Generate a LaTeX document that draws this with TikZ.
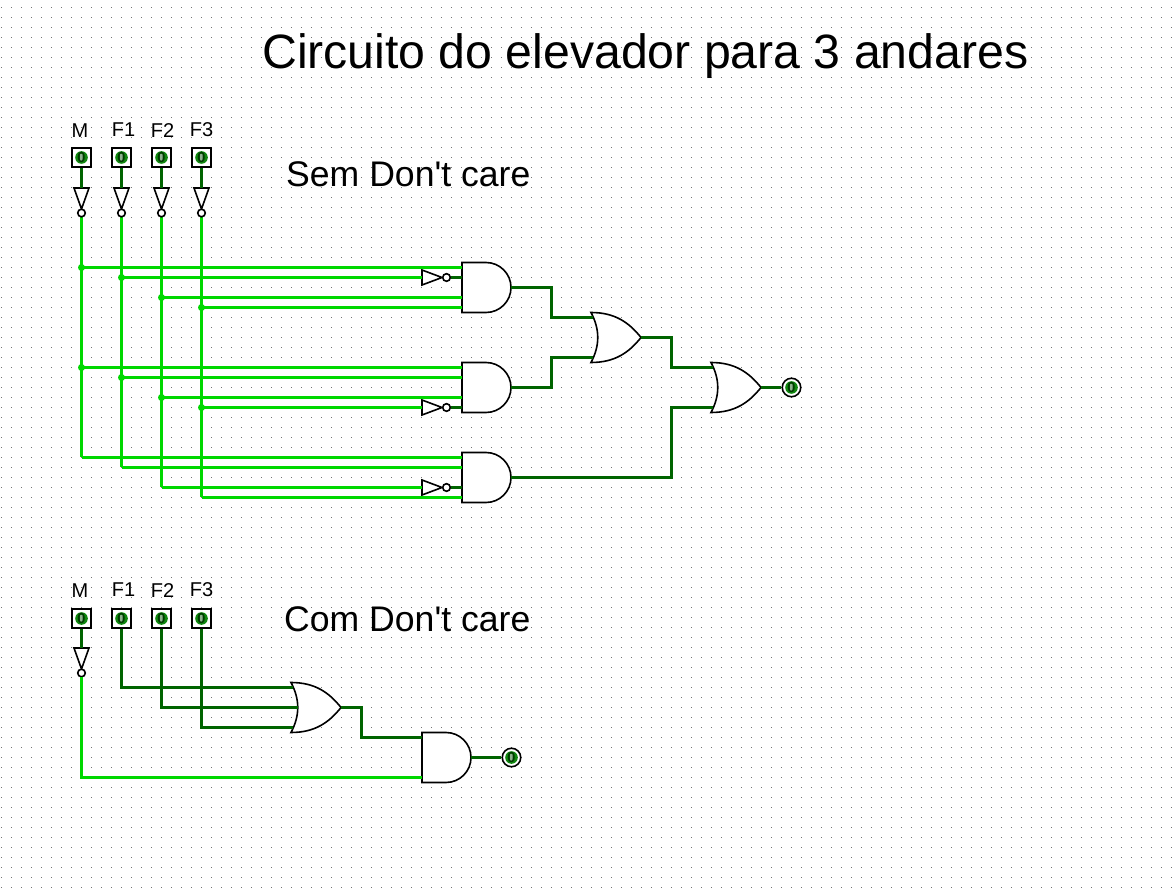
\documentclass[tikz,border=0pt]{standalone}
\usepackage{fontspec}
\setmainfont{Liberation Sans}[Ligatures=TeXOff]
\usetikzlibrary{calc}
\definecolor{wireon}{HTML}{00D800}
\definecolor{wireoff}{HTML}{006400}
\definecolor{ledgreen}{HTML}{108810}
\definecolor{glyphpale}{HTML}{8FB08F}
\definecolor{glyphdark}{HTML}{003C00}
\tikzset{
  x=1pt,y=-1pt,
  lit/.style={draw=wireon,line width=3pt},
  dim/.style={draw=wireoff,line width=3pt},
  outl/.style={draw=black,line width=1.6pt,line join=miter,fill=white},
  joint/.style={circle,fill=wireon,inner sep=0pt,minimum size=7pt},
  lab/.style={font=\fontsize{20}{20}\selectfont,inner sep=0pt},
  head/.style={font=\fontsize{35.6}{36}\selectfont,inner sep=0pt},
  title/.style={font=\fontsize{48.2}{50}\selectfont,inner sep=0pt},
  zero/.style={font=\fontsize{14.5}{14.5}\bfseries\selectfont,text=glyphdark,inner sep=0pt},
}
% AND gate: name, left x, centre y
\newcommand{\andgate}[3]{%
  \path[outl] (#2,#3-25) -- (#2+24,#3-25) arc[start angle=90,end angle=-90,radius=25pt] -- (#2,#3+25) -- cycle;
  \coordinate (#1o) at (#2+49,#3);
  \coordinate (#1a) at (#2,#3-20);
  \coordinate (#1b) at (#2,#3-10);
  \coordinate (#1c) at (#2,#3+10);
  \coordinate (#1d) at (#2,#3+20);
}
% OR gate: name, left x, centre y
\newcommand{\orgate}[3]{%
  \path[outl] (#2,#3-25) .. controls (#2+24,#3-25) and (#2+38,#3-15) .. (#2+50,#3)
     .. controls (#2+38,#3+15) and (#2+24,#3+25) .. (#2,#3+25)
     .. controls (#2+9,#3+8) and (#2+9,#3-8) .. cycle;
  \coordinate (#1o) at (#2+50,#3);
  \coordinate (#1a) at (#2+2,#3-20);
  \coordinate (#1m) at (#2+7,#3);
  \coordinate (#1b) at (#2+2,#3+20);
}
% Lamp face with its 0
\newcommand{\face}[2]{%
  \fill[ledgreen] (#1,#2) circle[radius=6.3pt];
  \fill[glyphpale] (#1-2,#2-3.5) rectangle (#1+2,#2+3.5);
  \node[zero] at (#1,#2) {0};
}
% Input switch: name, x, y
\newcommand{\swbox}[3]{%
  \node[draw=black,line width=1.6pt,fill=white,minimum size=18.5pt,inner sep=0pt] (#1) at (#2,#3) {};
  \face{#2}{#3}
}
% Output lamp: name, x, y
\newcommand{\lamp}[3]{%
  \node[circle,draw=black,line width=1.6pt,fill=white,minimum size=18.5pt,inner sep=0pt] (#1) at (#2,#3) {};
  \face{#2}{#3}
}
% Vertical inverter: name, x, top y
\newcommand{\vnot}[3]{%
  \path[outl] (#2-7.5,#3) -- (#2+7.5,#3) -- (#2,#3+21) -- cycle;
  \path[outl] (#2,#3+25) circle[radius=3.8pt];
  \coordinate (#1i) at (#2,#3);
  \coordinate (#1o) at (#2,#3+29);
}
% Horizontal inverter: name, left x, y
\newcommand{\hnot}[3]{%
  \path[outl] (#2,#3-7.5) -- (#2+20,#3) -- (#2,#3+7.5) -- cycle;
  \path[outl] (#2+24.5,#3) circle[radius=3.8pt];
  \coordinate (#1i) at (#2,#3);
  \coordinate (#1o) at (#2+28.5,#3);
}
\begin{document}
\begin{tikzpicture}
\useasboundingbox (0,0) rectangle (1176,890);
\fill[white] (0,0) rectangle (1176,890);
% dotted grid
\foreach \gy in {7.5,17.5,...,887.5}
  \draw[draw=black!55,line width=1pt,dash pattern=on 1pt off 9pt] (1,\gy) -- (1176,\gy);

\coordinate (jm1) at (81.5,267.5);
\coordinate (jf1) at (121.5,277.5);
\coordinate (jf2) at (161.5,297.5);
\coordinate (jf3) at (201.5,307.5);
\coordinate (jm2) at (81.5,367.5);
\coordinate (jg1) at (121.5,377.5);
\coordinate (jg2) at (161.5,397.5);
\coordinate (jg3) at (201.5,407.5);
\coordinate (em) at (81.5,457.5);
\coordinate (ef1) at (121.5,467.5);
\coordinate (ef2) at (161.5,487.5);
\coordinate (ef3) at (201.5,497.5);
\coordinate (vm) at (81.5,216);
\coordinate (vf1) at (121.5,216);
\coordinate (vf2) at (161.5,216);
\coordinate (vf3) at (201.5,216);
\coordinate (bus) at (671.5,0);
\draw[lit] (vm) -- (em);
\draw[lit] (vf1) -- (ef1);
\draw[lit] (vf2) -- (ef2);
\draw[lit] (vf3) -- (ef3);

% Labels
\node[title,anchor=base west] (ttl) at (262,69) {Circuito do elevador para 3 andares};
\node[head,anchor=base west] (sem) at (286,187) {Sem Don't care};
\node[head,anchor=base west] (com) at (284,631) {Com Don't care};
\foreach \nm/\tx/\lx/\ly in {lm/M/80/137.5,lq/F1/123.5/136.5,lr/F2/162.5/137.5,ls/F3/201.5/136.5,
   ln/M/80/597.5,lt/F1/123.5/596.5,lu/F2/162.5/597.5,lv/F3/201.5/596.5}
  \node[lab,anchor=base] (\nm) at (\lx,\ly) {\tx};

% Switches upper
\swbox{sm}{81.5}{157.5}
\swbox{sa}{121.5}{157.5}
\swbox{sb}{161.5}{157.5}
\swbox{sc}{201.5}{157.5}
\vnot{nm}{81.5}{188}
\vnot{na}{121.5}{188}
\vnot{nb}{161.5}{188}
\vnot{nc}{201.5}{188}
\draw[dim] (sm.south) -- (nmi);
\draw[dim] (sa.south) -- (nai);
\draw[dim] (sb.south) -- (nbi);
\draw[dim] (sc.south) -- (nci);

% Gates upper
\andgate{ga}{462}{287.5}
\andgate{gb}{462}{387.5}
\andgate{gc}{462}{477.5}
\orgate{oa}{591}{337.5}
\orgate{ob}{711}{387.5}
\hnot{ia}{422}{277.5}
\hnot{ib}{422}{407.5}
\hnot{ic}{422}{487.5}
\lamp{la}{791.5}{387.5}

\draw[lit] (jm1) -- (gaa);
\draw[lit] (jf1) -- (iai);
\draw[dim] (iao) -- (gab);
\draw[lit] (jf2) -- (gac);
\draw[lit] (jf3) -- (gad);
\draw[lit] (jm2) -- (gba);
\draw[lit] (jg1) -- (gbb);
\draw[lit] (jg2) -- (gbc);
\draw[lit] (jg3) -- (ibi);
\draw[dim] (ibo) -- (gbd);
\draw[lit] (em) -- (gca);
\draw[lit] (ef1) -- (gcb);
\draw[lit] (ef2) -- (ici);
\draw[dim] (ico) -- (gcc);
\draw[lit] (ef3) -- (gcd);
\foreach \j in {jm1,jf1,jf2,jf3,jm2,jg1,jg2,jg3}
  \node[joint] at (\j) {};

\draw[dim,line join=miter] (gao) -- ++(40,0) |- (oaa);
\draw[dim,line join=miter] (gbo) -- ++(40,0) |- (oab);
\draw[dim,line join=miter] (oao) -| (bus |- oba) -- (oba);
\draw[dim,line join=miter] (gco) -| (bus |- obb) -- (obb);
\draw[dim] (obo) -- (la.west);

% Lower circuit
\swbox{tm}{81.5}{618.5}
\swbox{ta}{121.5}{618.5}
\swbox{tb}{161.5}{618.5}
\swbox{tc}{201.5}{618.5}
\vnot{pm}{81.5}{648}
\draw[dim] (tm.south) -- (pmi);
\orgate{oc}{291}{707.5}
\andgate{gd}{422}{757.5}
\lamp{lb}{511.5}{757.5}
\draw[dim,line join=miter] (ta.south) |- (oca);
\draw[dim,line join=miter] (tb.south) |- (ocm);
\draw[dim,line join=miter] (tc.south) |- (ocb);
\draw[dim,line join=miter] (oco) -- ++(20,0) |- (gda);
\draw[lit,line join=miter] (pmo) |- (gdd);
\draw[dim] (gdo) -- (lb.west);
\end{tikzpicture}
\end{document}
